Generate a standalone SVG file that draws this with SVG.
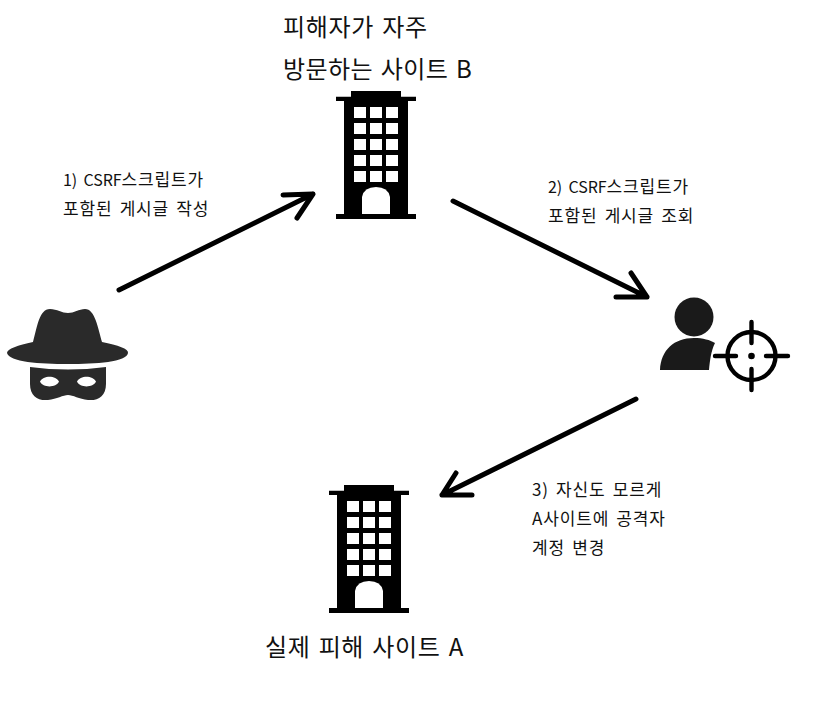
<svg xmlns="http://www.w3.org/2000/svg" width="835" height="704" viewBox="0 0 835 704">
<style>
text{font-family:"Noto Sans CJK KR","Noto Sans",sans-serif;fill:#111}
.s{font-size:17px;letter-spacing:.85px;word-spacing:2.500px}
.t{font-size:16px;letter-spacing:-.1px;word-spacing:3px}
.l{font-size:24px;letter-spacing:.7px;word-spacing:2px}
.a{fill:none;stroke:#000;stroke-width:5px;stroke-linecap:round;stroke-linejoin:round}
</style>
<defs>
<g id="bld">
<path d="M351 91H401V96.700H416V101H408V214H416V219H336V214H344V101H336V96.700H351Z" fill="#000"/>
<g fill="#fff">
<rect x="354" y="107" width="12" height="11"/><rect x="370" y="107" width="12" height="11"/><rect x="386" y="107" width="12" height="11"/>
<rect x="354" y="123" width="12" height="11"/><rect x="370" y="123" width="12" height="11"/><rect x="386" y="123" width="12" height="11"/>
<rect x="354" y="139" width="12" height="11"/><rect x="370" y="139" width="12" height="11"/><rect x="386" y="139" width="12" height="11"/>
<rect x="354" y="155" width="12" height="11"/><rect x="370" y="155" width="12" height="11"/><rect x="386" y="155" width="12" height="11"/>
<rect x="354" y="171" width="12" height="11"/><rect x="370" y="171" width="12" height="11"/><rect x="386" y="171" width="12" height="11"/>
<path d="M362 214V197Q364 187 376 187Q388 187 390 197V214Z"/>
</g>
</g>
</defs>
<g id="connectors">
<path class="a" d="M119 290L313 194M283 195L313 194L297 218"/>
<path class="a" d="M453 201L647 297M616 297L647 297L631 273"/>
<path class="a" d="M636 399L442 495M472 495L442 495L456 473"/>
</g>
<g id="site-b"><use href="#bld"/></g>
<g id="site-a"><use href="#bld" x="-7" y="394"/></g>
<g id="attacker" fill="#2a2a2a">
<path d="M33 342C37 328 39 309 50 309C57 309 62 313 68 313C74 313 79 309 85 309C95 309 98 328 102 342C118 345 129 349 128 353C127 362 96 364 68 364C40 364 9 362 7 353C7 349 18 345 33 342Z"/>
<path fill-rule="evenodd" d="M30 367Q68 372 106 367V384C106 396 98 401 88 400C79 399 73 395 68 395C63 395 57 399 48 400C38 401 30 396 30 384ZM40 381.500C43 375 56 375 59 381.500C56 388 43 388 40 381.500ZM77 381.500C80 375 93 375 96 381.500C93 388 80 388 77 381.500Z"/>
</g>
<g id="victim">
<circle cx="694" cy="317" r="19.500" fill="#1a1a1a"/>
<path d="M660 370C661 350 674 338 694 338C703 338 710 340 715 343C711 351 710 360 709 370Z" fill="#1a1a1a"/>
<g fill="none" stroke="#000" stroke-width="4.400" stroke-linecap="round">
<circle cx="751.500" cy="356" r="24"/>
<path d="M751.500 322V343M751.500 369V390M715 356H736M766 356H788"/>
</g>
<circle cx="751.500" cy="356" r="3.300" fill="#000"/>
</g>
<g id="labels">
<text class="l" x="283" y="36">피해자가 자주</text>
<text class="l" x="283" y="78" style="letter-spacing:.4px">방문하는 사이트 B</text>
<text class="s" x="63" y="186"><tspan class="t">1) CSRF</tspan>스크립트가</text>
<text class="s" x="63" y="215">포함된 게시글 작성</text>
<text class="s" x="548" y="193"><tspan class="t">2) CSRF</tspan>스크립트가</text>
<text class="s" x="548" y="222">포함된 게시글 조회</text>
<text class="s" x="532" y="496">3) 자신도 모르게</text>
<text class="s" x="532" y="525">A사이트에 공격자</text>
<text class="s" x="532" y="554">계정 변경</text>
<text class="l" x="265" y="656" style="word-spacing:2.500px;letter-spacing:.55px">실제 피해 사이트 A</text>
</g>
</svg>
